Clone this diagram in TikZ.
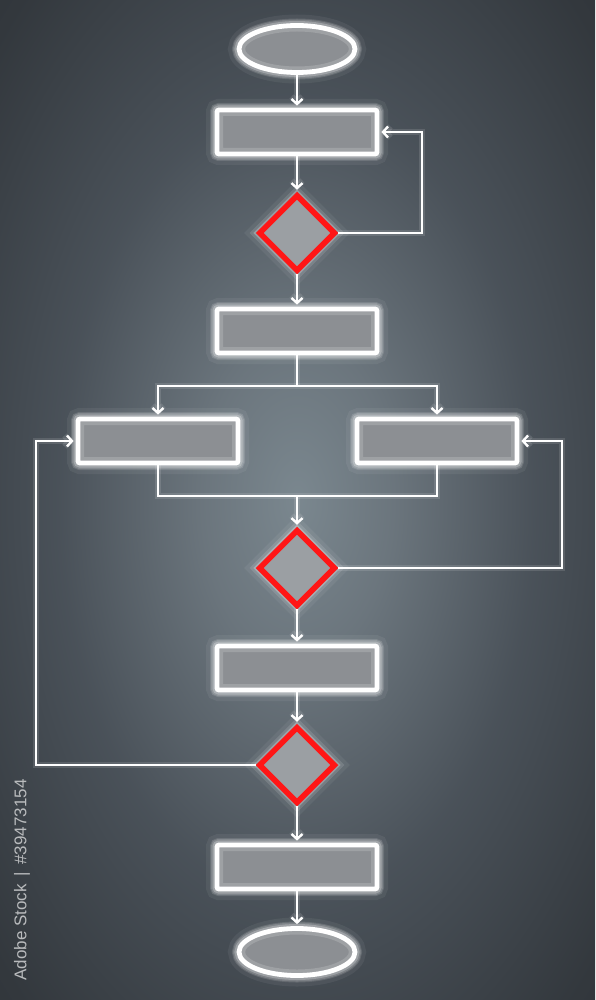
\documentclass[tikz,border=0pt]{standalone}
\usepackage{fontspec}
\setmainfont{Liberation Sans}
\usetikzlibrary{shapes.geometric,arrows.meta}
\pgfdeclareradialshading{bgshade}{\pgfpoint{0bp}{0bp}}{%
 rgb(0bp)=(0.48,0.53,0.56); rgb(8bp)=(0.42,0.46,0.49); rgb(20bp)=(0.29,0.32,0.35); rgb(34bp)=(0.20,0.22,0.24); rgb(50bp)=(0.15,0.16,0.18); rgb(72bp)=(0.10,0.11,0.12)}
\definecolor{boxgray}{RGB}{140,143,147}
\definecolor{diagray}{RGB}{155,159,163}
\definecolor{redline}{RGB}{255,22,22}
\definecolor{idgray}{RGB}{185,187,189}
\begin{document}
\begin{tikzpicture}[x=1pt,y=-1pt,
  glow/.style={preaction={draw=white,line width=22pt,opacity=0.06},
               preaction={draw=white,line width=14pt,opacity=0.12},
               preaction={draw=white,line width=9pt,opacity=0.25}},
  boxnode/.style={rectangle, rounded corners=2pt, minimum width=160pt, minimum height=44pt,
    inner sep=0pt, fill=boxgray, draw=white, line width=4.8pt, glow,
    postaction={draw=white,line width=12pt,opacity=0.16}},
  termnode/.style={ellipse, minimum width=116pt, minimum height=47pt, inner sep=0pt,
    fill=boxgray, draw=white, line width=4.8pt, glow,
    postaction={draw=white,line width=12pt,opacity=0.16}},
  decnode/.style={diamond, aspect=1, minimum width=77pt, minimum height=77pt, inner sep=0pt,
    fill=diagray, draw=redline, line width=5.5pt, glow},
  conn/.style={draw=white, line width=2.4pt,
    preaction={draw=white,line width=6pt,opacity=0.12}},
  arr/.style={conn, -{Straight Barb[length=5pt,width=11pt]}, shorten >=2pt}
]
\shade[shading=bgshade] (0,0) rectangle (595,1000);
\useasboundingbox (0,0) rectangle (595,1000);

% coordinates for bends
\coordinate (c1) at (422,132);
\coordinate (s1) at (297,386);
\coordinate (j1) at (297,496);
\coordinate (c2) at (562,441);
\coordinate (c3) at (36,441);

% nodes
\node[termnode] (e1) at (297,49) {};
\node[boxnode] (r1) at (297,132) {};
\node[decnode] (d1) at (297,233) {};
\node[boxnode] (r2) at (297,331) {};
\node[boxnode] (rl) at (158,441) {};
\node[boxnode] (rr) at (437,441) {};
\node[decnode] (d2) at (297,568) {};
\node[boxnode] (r3) at (297,668) {};
\node[decnode] (d3) at (297,765) {};
\node[boxnode] (r4) at (297,867) {};
\node[termnode] (e2) at (297,952) {};

% connectors
\draw[arr] (e1.south) -- (r1.north);
\draw[arr] (r1.south) -- (d1.north);
\draw[arr] (d1.east) -| (c1) -- (r1.east);
\draw[arr] (d1.south) -- (r2.north);
\draw[conn] (r2.south) -- (s1);
\draw[arr] (s1) -| (rl.north);
\draw[arr] (s1) -| (rr.north);
\draw[conn] (rl.south) |- (j1);
\draw[conn] (rr.south) |- (j1);
\draw[arr] (j1) -- (d2.north);
\draw[arr] (d2.east) -| (c2) -- (rr.east);
\draw[arr] (d2.south) -- (r3.north);
\draw[arr] (r3.south) -- (d3.north);
\draw[arr] (d3.west) -| (c3) -- (rl.west);
\draw[arr] (d3.south) -- (r4.north);
\draw[arr] (r4.south) -- (e2.north);

% side id text
\node[rotate=90, text=idgray, font=\fontsize{17}{20}\selectfont, inner sep=0pt] (idtext) at (22,880) {Adobe Stock \,|\, \#39473154};
\end{tikzpicture}
\end{document}
